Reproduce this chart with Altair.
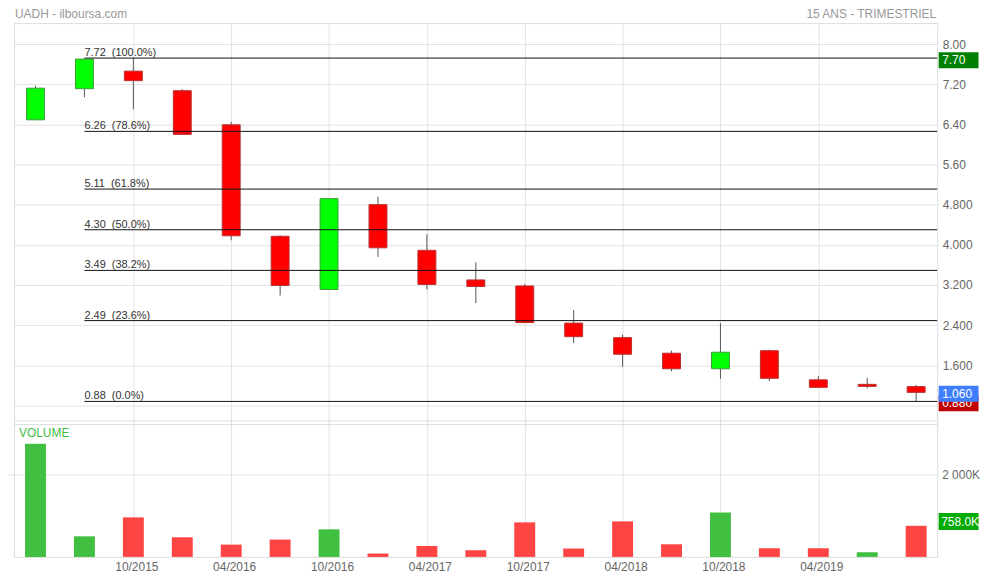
import altair as alt
import pandas as pd

# ---- data ----
quarters = ["04/2015", "07/2015", "10/2015", "01/2016", "04/2016", "07/2016", "10/2016",
            "01/2017", "04/2017", "07/2017", "10/2017", "01/2018", "04/2018", "07/2018",
            "10/2018", "01/2019", "04/2019", "07/2019", "10/2019"]
opens = [6.49, 7.11, 7.46, 7.07, 6.39, 4.17, 3.11, 4.80, 3.89, 3.30, 3.18, 2.44, 2.15,
         1.84, 1.53, 1.89, 1.31, 1.22, 1.175]
closes = [7.12, 7.70, 7.27, 6.20, 4.18, 3.19, 4.92, 3.94, 3.21, 3.17, 2.45, 2.17, 1.82,
          1.53, 1.86, 1.34, 1.16, 1.18, 1.06]
highs = [7.17, 7.70, 7.72, 7.10, 6.45, 4.19, 4.92, 4.96, 4.21, 3.65, 3.22, 2.70, 2.21,
         1.89, 2.44, 1.91, 1.39, 1.35, 1.21]
lows = [6.49, 6.94, 6.70, 6.20, 4.09, 2.99, 3.11, 3.76, 3.11, 2.84, 2.45, 2.04, 1.57,
        1.48, 1.33, 1.28, 1.16, 1.14, 0.88]
volumes_k = [2760, 502, 963, 478, 300, 422, 672, 82, 267, 163, 842, 204, 866, 308, 1085,
             211, 211, 114, 758]

fib_levels = [7.72, 6.26, 5.11, 4.30, 3.49, 2.49, 0.88]
fib_pcts = ["100.0%", "78.6%", "61.8%", "50.0%", "38.2%", "23.6%", "0.0%"]

price_ticks = [0.8, 1.6, 2.4, 3.2, 4.0, 4.8, 5.6, 6.4, 7.2, 8.0]
x_ticks = [2, 4, 6, 8, 10, 12, 14, 16]
volume_ticks = [2000]

title_left = "UADH - ilboursa.com"
title_right = "15 ANS - TRIMESTRIEL"

# ---- tables ----
df = pd.DataFrame({"idx": list(range(len(quarters))), "quarter": quarters,
                   "open": opens, "close": closes, "high": highs, "low": lows,
                   "vol": volumes_k})
df["dir"] = ["up" if c >= o else "down" for o, c in zip(opens, closes)]
prev = [closes[0]] + closes[:-1]
df["vdir"] = ["vup" if (i == 0 or c >= p) else "vdown" for i, (c, p) in enumerate(zip(closes, prev))]

fib_df = pd.DataFrame({"level": fib_levels,
                       "label": [f"{v:.2f}\u00a0\u00a0({p})" for v, p in zip(fib_levels, fib_pcts)],
                       "start": [1] * len(fib_levels)})
vgrid_df = pd.DataFrame({"v": volume_ticks,
                         "t": [f"{v:,}".replace(",", " ") + "K" for v in volume_ticks]})

W = 927      # plot width
H = 536      # plot height (price + volume panels)
PRICE_BOTTOM = 399.5   # separator between panels (pixels)
VOL_TOP = 403
BOX_W = 40
BOX_X = W + 1.5 + BOX_W / 2

xscale = alt.Scale(domain=[-0.44, 18.43], nice=False, zero=False, padding=0)
yscale = alt.Scale(domain=[-2.218, 8.4167], nice=False, zero=False, padding=0)
vscale = alt.Scale(domain=[0, 13010], nice=False, zero=True, padding=0)

grid_color = "#e2e2e2"
label_color = "#666666"
FONT = "Liberation Sans"

quarter_js = "[" + ",".join(f"'{q}'" for q in quarters) + "]"
x_axis = alt.Axis(values=x_ticks, ticks=False, domain=False, grid=True,
                  gridColor=grid_color, title=None, labelColor=label_color,
                  labelFontSize=12, labelPadding=5, labelOffset=3, labelFont=FONT,
                  labelExpr=quarter_js + "[datum.value]")
y_axis_price = alt.Axis(orient="right", values=price_ticks, ticks=False, domain=False,
                        grid=True, gridColor=grid_color, title=None,
                        labelColor=label_color, labelFontSize=12, labelPadding=5,
                        labelFont=FONT,
                        labelExpr="datum.value < 0.85 ? '' : (datum.value >= 5 ? format(datum.value, '.2f') : format(datum.value, '.3f'))")

base = alt.Chart(df)

# ---------------- price panel ----------------
wicks = base.mark_rule(color="#555555", strokeWidth=1).encode(
    x=alt.X("idx:Q", scale=xscale, axis=x_axis),
    y=alt.Y("low:Q", scale=yscale, axis=y_axis_price),
    y2="high:Q",
)
bodies = base.mark_bar(size=18, strokeWidth=1).encode(
    x="idx:Q",
    y="open:Q",
    y2="close:Q",
    color=alt.Color("dir:N", scale=alt.Scale(domain=["up", "down"], range=["#00ff00", "#ff0000"]), legend=None),
    stroke=alt.Stroke("dir:N", scale=alt.Scale(domain=["up", "down"], range=["#3c9a3c", "#b83030"]), legend=None),
)
fib_lines = alt.Chart(fib_df).mark_rule(color="#111111", strokeWidth=1).encode(
    x="start:Q", x2=alt.value(W), y="level:Q"
)
fib_text = alt.Chart(fib_df).mark_text(align="left", baseline="alphabetic", dy=-2,
                                       fontSize=11, color="#333333", font=FONT).encode(
    x="start:Q", y="level:Q", text="label:N"
)
t_left = alt.Chart(pd.DataFrame({"t": [title_left]})).mark_text(
    align="left", baseline="alphabetic", fontSize=12, color="#999999", font=FONT).encode(
    x=alt.value(1), y=alt.value(-5.5), text="t:N")
t_right = alt.Chart(pd.DataFrame({"t": [title_right]})).mark_text(
    align="right", baseline="alphabetic", fontSize=12, color="#999999", font=FONT).encode(
    x=alt.value(W - 1), y=alt.value(-5.5), text="t:N")

price_boxes = [(0.88, "0.880", "#c00000", 2), (7.70, "7.70", "#008000", 1.2),
               (1.06, "1.060", "#3f7fff", 1.4)]
box_layers = []
for val, lab, col, off in price_boxes:
    bd = pd.DataFrame({"v": [val], "t": [lab]})
    box_layers.append(alt.Chart(bd).mark_tick(size=BOX_W, thickness=16, opacity=1, color=col,
                                              yOffset=off).encode(
        y="v:Q", x=alt.value(BOX_X)))
    box_layers.append(alt.Chart(bd).mark_text(align="left", baseline="middle", fontSize=12,
                                              color="white", yOffset=off, font=FONT).encode(
        y="v:Q", x=alt.value(W + 5), text="t:N"))

# panel separator (borders of the two panels)
sep1 = alt.Chart(pd.DataFrame({"a": [0]})).mark_rule(color="#dddddd", strokeWidth=1).encode(
    y=alt.value(PRICE_BOTTOM), x=alt.value(0), x2=alt.value(W))
sep2 = alt.Chart(pd.DataFrame({"a": [0]})).mark_rule(color="#dddddd", strokeWidth=1).encode(
    y=alt.value(VOL_TOP), x=alt.value(0), x2=alt.value(W))

price = alt.layer(wicks, bodies, fib_lines, fib_text, t_left, t_right, sep1, sep2, *box_layers)

# ---------------- volume panel ----------------
vol_grid = alt.Chart(vgrid_df).mark_rule(color=grid_color, strokeWidth=1).encode(
    y=alt.Y("v:Q", scale=vscale, axis=None), x=alt.value(-11), x2=alt.value(W))
vol_bars = base.mark_bar(size=21).encode(
    x=alt.X("idx:Q", scale=xscale),
    y=alt.Y("vol:Q"),
    color=alt.Color("vdir:N", scale=alt.Scale(domain=["vup", "vdown"], range=["#40bf40", "#ff4444"]), legend=None),
)
vol_grid_lab = alt.Chart(vgrid_df).mark_text(align="left", baseline="middle", fontSize=12,
                                             color=label_color, font=FONT).encode(
    y="v:Q", x=alt.value(W + 5), text="t:N")
vol_label = alt.Chart(pd.DataFrame({"t": ["VOLUME"]})).mark_text(
    align="left", baseline="middle", fontSize=12, color="#44bb44", font=FONT).encode(
    x=alt.value(5), y=alt.value(VOL_TOP + 8.5), text="t:N")
vb = pd.DataFrame({"v": [volumes_k[-1]], "t": [f"{volumes_k[-1]:.1f}K"]})
vol_box = alt.Chart(vb).mark_tick(size=BOX_W, thickness=17, opacity=1, color="#00aa00",
                                  yOffset=-4.3).encode(
    y="v:Q", x=alt.value(BOX_X))
vol_box_text = alt.Chart(vb).mark_text(align="left", baseline="middle", fontSize=12,
                                       color="white", yOffset=-4.3, font=FONT).encode(
    y="v:Q", x=alt.value(W + 4), text="t:N")

volume = alt.layer(vol_grid, vol_bars, vol_grid_lab, vol_label, vol_box, vol_box_text)

chart = alt.layer(price, volume).resolve_scale(y="independent", color="independent").properties(
    width=W, height=H,
    autosize=alt.AutoSizeParams(type="none"),
    padding={"left": 6, "top": 14, "right": 45, "bottom": 20},
).configure(font=FONT).configure_view(
    stroke="#dddddd", strokeWidth=1
)

chart.save("out.html", embed_options={"renderer": "svg", "actions": False})
